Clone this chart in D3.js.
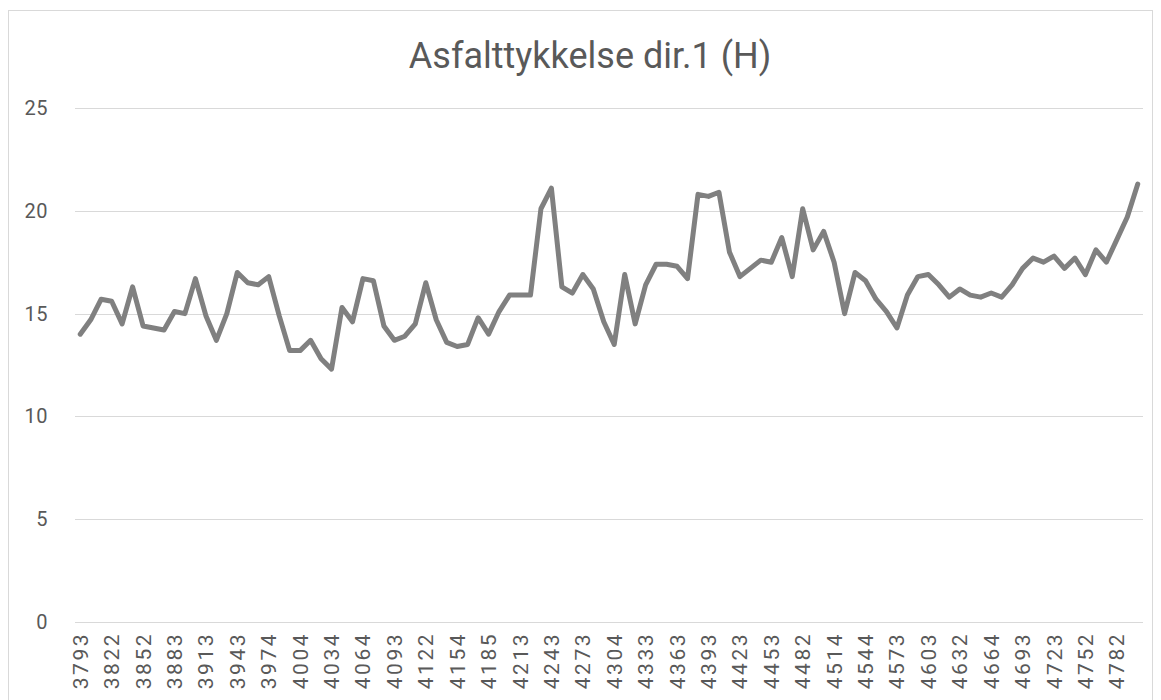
<!DOCTYPE html>
<html>
<head>
<meta charset="utf-8">
<script src="https://cdn.jsdelivr.net/npm/d3@7"></script>
<style>
  body { margin: 0; background: #fff; }
  text { font-family: Roboto, "Open Sans", sans-serif; fill: #595959; }
</style>
</head>
<body>
<div id="chart"></div>
<script>
var width = 1161;
var height = 700;

// labelled positions (every third sample is labelled on the axis)
var tickLabels = ["3793", "3822", "3852", "3883", "3913", "3943", "3974", "4004", "4034", "4064",
    "4093", "4122", "4154", "4185", "4213", "4243", "4273", "4304", "4333", "4363",
    "4393", "4423", "4453", "4482", "4514", "4544", "4573", "4603", "4632", "4664",
    "4693", "4723", "4752", "4782"];

// asphalt thickness values
var values = [14.0, 14.7, 15.7, 15.6, 14.5, 16.3, 14.4, 14.3, 14.2, 15.1,
    15.0, 16.7, 14.9, 13.7, 15.0, 17.0, 16.5, 16.4, 16.8, 14.9,
    13.2, 13.2, 13.7, 12.8, 12.3, 15.3, 14.6, 16.7, 16.6, 14.4,
    13.7, 13.9, 14.5, 16.5, 14.7, 13.6, 13.4, 13.5, 14.8, 14.0,
    15.1, 15.9, 15.9, 15.9, 20.1, 21.1, 16.3, 16.0, 16.9, 16.2,
    14.6, 13.5, 16.9, 14.5, 16.4, 17.4, 17.4, 17.3, 16.7, 20.8,
    20.7, 20.9, 18.0, 16.8, 17.2, 17.6, 17.5, 18.7, 16.8, 20.1,
    18.1, 19.0, 17.5, 15.0, 17.0, 16.6, 15.7, 15.1, 14.3, 15.9,
    16.8, 16.9, 16.4, 15.8, 16.2, 15.9, 15.8, 16.0, 15.8, 16.4,
    17.2, 17.7, 17.5, 17.8, 17.2, 17.7, 16.9, 18.1, 17.5, 18.6,
    19.7, 21.3];

var yTicks = [0, 5, 10, 15, 20, 25];

const svg = d3.select("#chart")
    .append("svg")
    .attr("width", width)
    .attr("height", height);

// chart border
svg.append("rect")
    .attr("x", 8.5)
    .attr("y", 10.5)
    .attr("width", 1144)
    .attr("height", 720)
    .attr("fill", "none")
    .attr("stroke", "#d9d9d9");

var x = d3.scalePoint()
    .domain(d3.range(values.length))
    .range([75, 1143])
    .padding(0.5);

var y = d3.scaleLinear()
    .domain([0, 25])
    .range([622, 108]);

// horizontal gridlines
svg.selectAll(".grid")
    .data(yTicks)
    .enter().append("line")
    .attr("class", "grid")
    .attr("x1", 75)
    .attr("x2", 1143)
    .attr("y1", d => Math.round(y(d)) + 0.5)
    .attr("y2", d => Math.round(y(d)) + 0.5)
    .attr("stroke", "#d9d9d9")
    .attr("stroke-width", 1);

// y labels
svg.selectAll(".ylab")
    .data(yTicks)
    .enter().append("text")
    .attr("class", "ylab")
    .attr("x", 48)
    .attr("y", d => y(d))
    .attr("dy", "0.35em")
    .attr("text-anchor", "end")
    .attr("font-size", 20)
    .attr("letter-spacing", 0.5)
    .text(d => d);

// x labels, rotated
svg.selectAll(".xlab")
    .data(tickLabels)
    .enter().append("text")
    .attr("class", "xlab")
    .attr("text-anchor", "end")
    .attr("font-size", 21)
    .attr("letter-spacing", 2.5)
    .attr("transform", function (d, i) {
        return "translate(" + (x(i * 3) + 7.5) + ",632) rotate(-90)";
    })
    .text(d => d);

// the series
var line = d3.line()
    .x(function (d, i) { return x(i); })
    .y(function (d) { return y(d); });

svg.append("path")
    .datum(values)
    .attr("fill", "none")
    .attr("stroke", "#808080")
    .attr("stroke-width", 5)
    .attr("stroke-linejoin", "round")
    .attr("stroke-linecap", "round")
    .attr("d", line);

// title
svg.append("text")
    .attr("x", 590)
    .attr("y", 68)
    .attr("text-anchor", "middle")
    .attr("font-size", 36)
    .text("Asfalttykkelse dir.1 (H)");
</script>
</body>
</html>
